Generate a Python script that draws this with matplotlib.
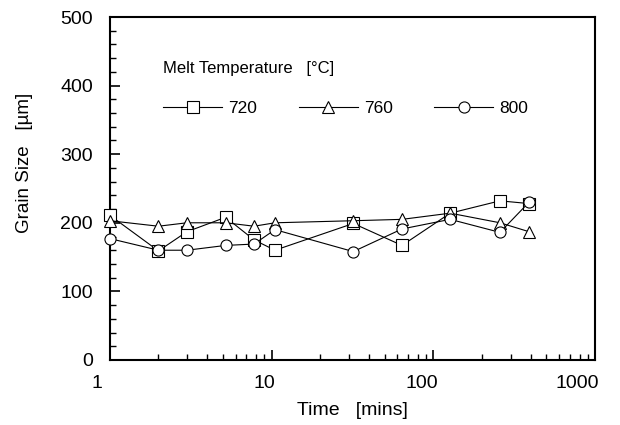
import matplotlib.pyplot as plt
import numpy as np
from matplotlib.ticker import MultipleLocator, LogLocator, NullFormatter

plt.rcParams['font.family'] = ['Liberation Sans', 'DejaVu Sans']

# time [mins]
t = [1, 2, 3, 5.2, 7.8, 10.5, 32, 64, 127, 258, 390]
# grain size [um] for each melt temperature
g720 = [211, 159, 187, 208, 175, 160, 199, 167, 214, 232, 228]
g760 = [203, 195, 200, 200, 195, 200, 203, 205, 214, 200, 187]
g800 = [177, 160, 160, 167, 169, 190, 158, 191, 205, 186, 230]
labels = ['720', '760', '800']
markers = ['s', '^', 'o']
xticks = [1, 10, 100, 1000]
xticklabels = ['1', '10', '100', '1000']

fig = plt.figure(figsize=(6.2, 4.25), dpi=100)
ax = fig.add_axes([0.177, 0.153, 0.783, 0.807])

for y, lab, m in zip([g720, g760, g800], labels, markers):
    ax.plot(t, y, color='black', lw=0.8, marker=m, markersize=8,
            markerfacecolor='white', markeredgecolor='black', markeredgewidth=0.8,
            label=lab, clip_on=False, zorder=3)

ax.set_xscale('log')
ax.set_xlim(1, 1000)
ax.set_ylim(0, 500)
ax.yaxis.set_major_locator(MultipleLocator(100))
ax.yaxis.set_minor_locator(MultipleLocator(20))
ax.xaxis.set_minor_locator(LogLocator(base=10, subs=np.arange(2, 10)))
ax.xaxis.set_minor_formatter(NullFormatter())
ax.set_xticks(xticks)
ax.set_xticklabels([])

# x tick labels sit a little left of their ticks in the original
shifts = [-9, -5, -8, -13]
for xv, lab, dx in zip(xticks, xticklabels, shifts):
    ax.annotate(lab, xy=(xv, 0), xycoords=('data', 'axes fraction'),
                xytext=(dx, -11), textcoords='offset points',
                ha='center', va='top', fontsize=14, annotation_clip=False)

ax.tick_params(which='major', direction='in', length=7, width=1.2, labelsize=14)
ax.tick_params(axis='y', which='major', pad=12)
ax.tick_params(which='minor', direction='in', length=4, width=1)
for s in ax.spines.values():
    s.set_linewidth(1.5)

ax.set_xlabel('Time   [mins]', fontsize=14)
ax.xaxis.set_label_coords(0.5, -0.122)
ax.set_ylabel('Grain Size   [\u00b5m]', fontsize=13.5)
ax.yaxis.set_label_coords(-0.158, 0.574)

fig.text(163 / 620, 1 - 68 / 425, 'Melt Temperature   [\u00b0C]', fontsize=12,
         ha='left', va='center')
leg = ax.legend(ncol=3, frameon=False, fontsize=12.5, loc='center left',
                bbox_to_anchor=(163 / 620, 1 - 108 / 425),
                bbox_transform=fig.transFigure, borderpad=0, borderaxespad=0,
                handlelength=3.4, handletextpad=0.35, columnspacing=2.4)

fig.savefig('out.png', dpi=100)
